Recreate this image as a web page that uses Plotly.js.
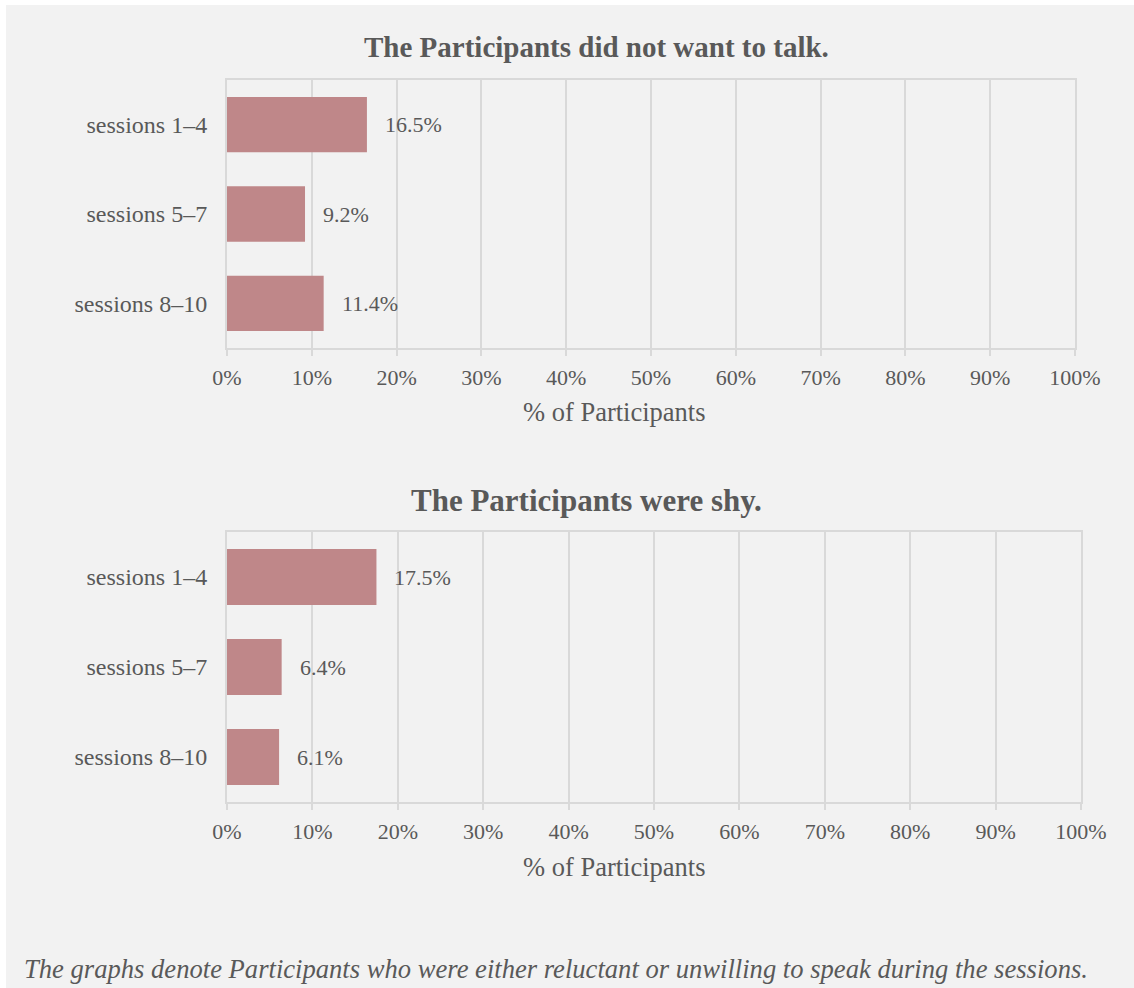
<!DOCTYPE html>
<html>
<head>
<meta charset="utf-8">
<script src="https://cdn.plot.ly/plotly-3.0.1.min.js"></script>
<style>
  html, body { margin: 0; padding: 0; background: #ffffff; }
  #chart { position: absolute; left: 6px; top: 5px; width: 1128px; height: 983px; }
</style>
</head>
<body>
<div id="chart"></div>
<script>
const categories = ["sessions 1–4", "sessions 5–7", "sessions 8–10"];
const notTalkValues = [16.5, 9.2, 11.4];
const shyValues = [17.5, 6.4, 6.1];
const chartTitles = ["The Participants did not want to talk.", "The Participants were shy."];
const axisTitle = "% of Participants";
const footnote = "The graphs denote Participants who were either reluctant or unwilling to speak during the sessions.";
const tickVals = [0, 10, 20, 30, 40, 50, 60, 70, 80, 90, 100];
const tickText = ["0%", "10%", "20%", "30%", "40%", "50%", "60%", "70%", "80%", "90%", "100%"];

const W = 1128, H = 983;
const FONT = "'Liberation Serif', 'Times New Roman', serif";
const TXT = "#595959";
const GRID = "#d9d9d9";
const BAR = "#bf8789";

const traces = [
  { type: "bar", orientation: "h", y: categories, x: notTalkValues, xaxis: "x", yaxis: "y",
    marker: { color: BAR }, width: 0.62, hoverinfo: "skip" },
  { type: "bar", orientation: "h", y: categories, x: shyValues, xaxis: "x2", yaxis: "y2",
    marker: { color: BAR }, width: 0.62, hoverinfo: "skip" }
];

function xAxis(domain, anchor) {
  return {
    domain: domain, anchor: anchor, range: [0, 100], tickvals: tickVals, ticktext: tickText,
    showgrid: true, gridcolor: GRID, gridwidth: 2,
    showline: true, linecolor: GRID, linewidth: 2, mirror: true,
    ticks: "outside", ticklen: 6, tickcolor: GRID, tickwidth: 2, ticklabelstandoff: 3,
    tickfont: { family: FONT, size: 22, color: TXT }, zeroline: false, fixedrange: true
  };
}
function yAxis(domain, anchor) {
  return {
    domain: domain, anchor: anchor, type: "category", categoryorder: "array",
    categoryarray: categories.slice().reverse(),
    showgrid: false, showline: true, linecolor: GRID, linewidth: 2, mirror: true,
    ticks: "", ticklabelstandoff: 13,
    tickfont: { family: FONT, size: 24, color: TXT }, fixedrange: true
  };
}

const annotations = [];
categories.forEach((c, i) => {
  annotations.push({ x: notTalkValues[i], y: c, xref: "x", yref: "y", text: notTalkValues[i].toFixed(1) + "%",
    showarrow: false, xanchor: "left", xshift: 16, font: { family: FONT, size: 22, color: TXT } });
  annotations.push({ x: shyValues[i], y: c, xref: "x2", yref: "y2", text: shyValues[i].toFixed(1) + "%",
    showarrow: false, xanchor: "left", xshift: 16, font: { family: FONT, size: 22, color: TXT } });
});
function paperText(text, px, py, size, anchor) {
  annotations.push({ x: px / W, y: 1 - py / H, xref: "paper", yref: "paper", text: text,
    showarrow: false, xanchor: anchor, yanchor: "middle", font: { family: FONT, size: size, color: TXT } });
}
paperText("<b>" + chartTitles[0] + "</b>", 590, 42, 29, "center");
paperText("<b>" + chartTitles[1] + "</b>", 580, 495, 31, "center");
paperText(axisTitle, 608, 407, 26.5, "center");
paperText(axisTitle, 608, 862, 26.5, "center");
paperText("<i>" + footnote + "</i>", 16, 964, 26.6, "left");

const layout = {
  width: W, height: H,
  paper_bgcolor: "#f2f2f2", plot_bgcolor: "#f2f2f2",
  margin: { l: 0, r: 0, t: 0, b: 0 },
  showlegend: false, bargap: 0.38,
  xaxis: xAxis([221 / W, 1069 / W], "y"),
  yaxis: yAxis([1 - 343 / H, 1 - 75 / H], "x"),
  xaxis2: xAxis([221 / W, 1075 / W], "y2"),
  yaxis2: yAxis([1 - 797 / H, 1 - 527 / H], "x2"),
  annotations: annotations
};

Plotly.newPlot("chart", traces, layout, { displayModeBar: false, staticPlot: true });
</script>
</body>
</html>
